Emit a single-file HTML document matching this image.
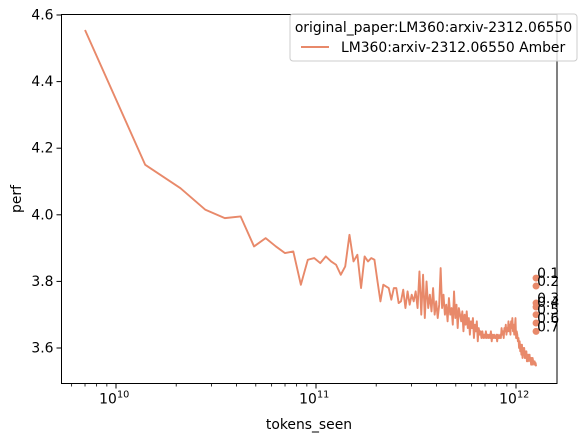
<!DOCTYPE html>
<html><head><meta charset="utf-8"><style>
body{margin:0;background:#fff}
svg text{font-family:"DejaVu Sans","Liberation Sans",sans-serif;fill:#000}
</style></head><body>
<svg id="chart" width="587" height="442" xmlns="http://www.w3.org/2000/svg">
<rect width="587" height="442" fill="#fff"/>
<g id="plot"></g>
</svg>
<script>
const stepTokens = 7e9;
const perfValues = [4.555,4.15,4.08,4.015,3.99,3.995,3.905,3.93,3.905,3.885,3.89,3.79,3.865,3.87,3.855,3.875,3.86,3.85,3.82,3.845,3.94,3.86,3.88,3.78,3.875,3.86,3.87,3.865,3.8,3.74,3.79,3.785,3.78,3.745,3.78,3.78,3.735,3.74,3.775,3.72,3.77,3.73,3.76,3.74,3.77,3.72,3.83,3.7,3.82,3.69,3.8,
3.72,3.76,3.71,3.78,3.70,3.74,3.69,3.73,3.84,
3.72,3.76,3.70,3.73,3.68,3.75,3.70,3.72,3.67,3.77,
3.69,3.73,3.66,3.72,3.70,3.68,3.71,3.65,3.70,3.67,
3.71,3.66,3.69,3.64,3.68,3.66,3.69,3.63,3.67,3.65,
3.68,3.62,3.66,3.64,3.65,3.63,3.65,3.63,3.64,3.63,
3.65,3.63,3.64,3.63,3.64,3.63,3.65,3.62,3.64,3.63,
3.64,3.63,3.63,3.64,3.62,3.64,3.63,3.63,3.64,3.63,
3.66,3.64,3.65,3.63,3.66,3.65,3.67,3.64,3.66,3.65,
3.68,3.65,3.67,3.64,3.68,3.66,3.69,3.65,3.67,3.64,
3.66,3.69,3.63,3.65,3.64,3.62,3.63,3.60,3.62,3.59,
3.61,3.58,3.61,3.57,3.60,3.58,3.60,3.57,3.59,3.57,
3.59,3.56,3.58,3.56,3.58,3.57,3.58,3.56,3.57,3.55,
3.57,3.55,3.57,3.56,3.56,3.55,3.56,3.55,3.555,3.545];
const quantileLabels = ["0.1","0.2","0.3","0.4","0.5","0.6","0.7"];
const quantileValues = [3.81,3.786,3.735,3.723,3.70,3.675,3.65];
const quantileTokens = 1.26e12;
const yTicks = [3.6,3.8,4.0,4.2,4.4,4.6];
const yTickLabels = ["3.6","3.8","4.0","4.2","4.4","4.6"];
const xDecades = [10,11,12];

const L=61.5,R=557,T=14.5,B=383.5;
const pxPerDec=200;
const X=v=>116+(Math.log10(v)-10)*pxPerDec;
const Y=v=>15+(4.6-v)*333;
const NS="http://www.w3.org/2000/svg";
const g=document.getElementById('plot');
function mk(t,a,txt){const e=document.createElementNS(NS,t);for(const k in a)e.setAttribute(k,a[k]);if(txt!=null)e.textContent=txt;g.appendChild(e);return e;}
const col="#e8896a";

let d=perfValues.map((v,i)=>(i?'L':'M')+X(stepTokens*(i+1)).toFixed(2)+','+Y(v).toFixed(2)).join('');
const line=mk('path',{d:d,fill:'none',stroke:col,'stroke-width':1.9,'stroke-linejoin':'round'});



quantileValues.forEach((v,i)=>{
  const c=mk('circle',{cx:X(quantileTokens),cy:Y(v),r:3.5,fill:col});
  
  
  const t=mk('text',{x:X(quantileTokens)+1,y:Y(v),'font-size':'13.9px'},quantileLabels[i]);
  
  
});

const fr=mk('rect',{x:L,y:T,width:R-L,height:B-T,fill:'none',stroke:'#000','stroke-width':1});



yTicks.forEach((v,i)=>{
  mk('line',{x1:L,x2:L-5,y1:Y(v),y2:Y(v),stroke:'#000'});
  const t=mk('text',{x:L-8,y:Y(v)+4.5,'font-size':'13.9px','text-anchor':'end'},yTickLabels[i]);
  
  
});
xDecades.forEach(p=>{
  const x=X(Math.pow(10,p));
  mk('line',{x1:x,x2:x,y1:B,y2:B+5,stroke:'#000'});
  const t=mk('text',{x:x-8,y:B+20,'font-size':'13.9px','text-anchor':'middle'},'10');
  
  
  mk('text',{x:x+1,y:B+14,'font-size':'9.7px'},String(p));
});
for(let p=9;p<=12;p++)for(let m=2;m<=9;m++){
  const x=X(m*Math.pow(10,p));
  if(x>L&&x<R)mk('line',{x1:x,x2:x,y1:B,y2:B+3,stroke:'#000','stroke-width':0.8});
}
const xl=mk('text',{x:309,y:429,'font-size':'13.9px','text-anchor':'middle'},'tokens_seen');


const yl=mk('text',{x:0,y:0,'font-size':'13.9px','text-anchor':'middle',transform:'translate(21,199) rotate(-90)'},'perf');



const lg=mk('rect',{x:290,y:14,width:287,height:47,rx:3,fill:'#fff','fill-opacity':0.8,stroke:'#ccc'});


const lt=mk('text',{x:433.5,y:32,'font-size':'13.9px','text-anchor':'middle'},'original_paper:LM360:arxiv-2312.06550');


mk('line',{x1:301,x2:329,y1:47,y2:47,stroke:col,'stroke-width':1.9});
const le=mk('text',{x:341,y:52,'font-size':'13.9px'},'LM360:arxiv-2312.06550 Amber');


</script>
</body></html>
